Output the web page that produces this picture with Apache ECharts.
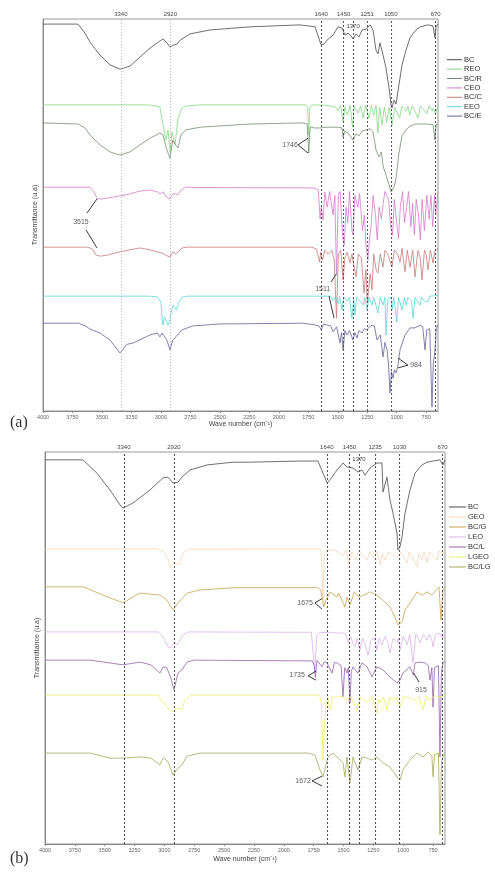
<!DOCTYPE html>
<html><head><meta charset="utf-8">
<script src="https://cdn.jsdelivr.net/npm/echarts@6/dist/echarts.min.js"></script>
<style>html,body{margin:0;padding:0;background:#fff}#c{width:495px;height:873px}</style>
</head><body><div id="c"></div>
<script>
// ---------- axis / tick data ----------
const wnTicks = [4000,3750,3500,3250,3000,2750,2500,2250,2000,1750,1500,1250,1000,750];
const bandsA = [3340,2920,1640,1450,1370,1251,1050,670];
const bandsB = [3340,2920,1640,1450,1370,1235,1030,670];
const namesA = ['BC','REO','BC/R','CEO','BC/C','EEO','BC/E'];
const namesB = ['BC','GEO','BC/G','LEO','BC/L','LGEO','BC/LG'];

// ---------- panel (a) spectra [wavenumber, transmittance (u.a)] ----------
const bcA = [[4000,98.7],[3703,98.7],[3644,96.4],[3601,94.1],[3517,90.8],[3432,88.3],[3347,87.2],[3262,88.0],[3177,90.3],[3092,92.6],[3008,94.4],[2982,94.9],[2948,93.9],[2923,92.9],[2889,93.4],[2863,93.6],[2838,94.6],[2753,96.2],[2584,97.2],[2244,98.0],[1820,98.5],[1693,98.0],[1667,95.7],[1642,93.4],[1617,93.6],[1591,94.6],[1540,95.9],[1498,98.0],[1464,97.7],[1439,95.9],[1413,96.4],[1388,95.7],[1371,94.9],[1345,96.2],[1320,95.4],[1294,97.2],[1260,97.4],[1226,98.5],[1201,97.2],[1176,92.1],[1159,91.1],[1142,93.9],[1116,90.8],[1091,87.5],[1065,82.4],[1048,78.1],[1040,77.3],[1023,79.3],[1006,78.3],[981,83.2],[955,88.3],[921,92.1],[887,95.2],[845,96.9],[802,98.0],[735,98.5],[692,98.2],[675,95.2],[667,98.0],[650,98.7]];
const reoA = [[4000,78.1],[3100,78.1],[3010,77.6],[2982,73.0],[2957,69.1],[2940,71.7],[2923,66.1],[2906,71.2],[2880,67.9],[2855,74.7],[2821,77.3],[2787,77.8],[2650,78.1],[1770,78.1],[1756,77.5],[1746,70.4],[1738,77.3],[1720,78.1],[1600,78.0],[1520,77.6],[1500,76.5],[1475,78],[1455,73.7],[1440,77.5],[1420,75.5],[1395,78],[1375,72.4],[1360,77.8],[1330,76],[1305,77.8],[1285,74.7],[1265,78],[1235,74.7],[1215,78],[1195,75.5],[1175,78],[1160,70.9],[1145,77.5],[1125,73],[1105,77.5],[1085,73.7],[1065,77.5],[1040,73],[1015,77.5],[995,76],[975,74.7],[955,77.8],[920,76.5],[905,77.8],[890,75.5],[870,77.8],[845,76.5],[820,74.7],[800,77.8],[770,76.8],[745,75.8],[725,77.8],[700,76.5],[690,77.3],[670,76],[650,78]];
const bcrA = [[4000,73.5],[3700,73.2],[3644,72.2],[3601,70.4],[3517,67.9],[3432,66.1],[3347,65.3],[3262,66.1],[3177,67.9],[3092,69.6],[3008,70.9],[2982,70.4],[2955,67.1],[2923,64.5],[2900,69.1],[2875,67.9],[2855,67.1],[2830,70.4],[2790,71.7],[2668,72.4],[2244,73.2],[1800,73.5],[1760,73.3],[1746,65.8],[1735,72.5],[1700,72.2],[1651,72.2],[1640,71.7],[1600,72.4],[1500,72.4],[1464,72.2],[1455,69.9],[1440,71.4],[1410,70.9],[1371,69.1],[1345,70.7],[1320,70.2],[1294,71.4],[1260,71.7],[1226,72.0],[1201,71.2],[1176,66.6],[1150,64.8],[1130,66.1],[1116,62.5],[1091,60.2],[1065,57.7],[1048,55.9],[1040,56.4],[1023,57.1],[1006,59.4],[981,65.8],[955,70.2],[921,71.7],[887,72.7],[845,73.2],[802,73.2],[735,73.2],[692,73.0],[675,69.1],[667,73.0],[650,73.2]];
const ceoA = [[4000,57.1],[3600,57.1],[3570,56.0],[3540,54.1],[3500,54.1],[3400,54.6],[3300,55.1],[3177,56.1],[3092,56.4],[3030,55.9],[3008,55.4],[2982,55.9],[2955,54.6],[2923,54.1],[2900,55.4],[2880,55.4],[2855,55.1],[2830,56.4],[2790,57.1],[2668,57.0],[1700,56.9],[1665,56.4],[1650,49],[1640,52],[1625,48.7],[1610,55.9],[1590,52],[1570,56],[1540,50],[1525,55],[1511,34.7],[1495,55],[1480,56],[1460,45],[1445,42.3],[1430,52],[1415,48],[1400,56],[1380,46],[1370,44.9],[1355,55],[1330,52],[1315,55.5],[1290,46],[1275,50],[1260,42],[1245,38.5],[1230,44],[1215,48],[1200,55],[1180,50],[1165,43.6],[1150,52],[1130,49],[1115,53],[1100,56],[1070,54],[1050,47],[1035,44.9],[1020,54],[1000,48],[985,44],[970,52],[950,56],[935,48],[920,51],[900,56],[880,47],[865,53],[850,45],[835,54],[815,50],[800,43.6],[785,54],[765,46],[745,55],[725,49],[710,55],[695,47],[680,55],[670,50],[650,56]];
const bccA = [[4000,41.8],[3620,41.8],[3580,41.3],[3550,39.8],[3515,39.5],[3450,39.8],[3350,40.6],[3262,41.1],[3177,41.6],[3092,41.1],[3030,40.6],[2990,40.3],[2950,39.6],[2923,39.3],[2900,40.6],[2875,40.1],[2855,40.6],[2820,41.6],[2780,41.8],[1720,41.8],[1680,41.3],[1655,38.0],[1645,40.5],[1630,38.5],[1610,41.0],[1580,40.0],[1550,41.0],[1530,38.5],[1511,23.7],[1495,40],[1475,41],[1455,33.4],[1440,39],[1420,40.5],[1396,37.8],[1380,40],[1360,36.5],[1345,34.2],[1325,40],[1300,39],[1277,30.1],[1262,36],[1250,27.6],[1225,35],[1210,30.9],[1195,40],[1175,36],[1160,35.2],[1140,40],[1116,36.7],[1100,41],[1075,40],[1055,38],[1040,36.7],[1020,41],[990,40],[972,38.0],[955,41.5],[930,35.5],[910,41],[887,36.7],[865,41],[845,34.2],[820,41],[800,39],[786,33.4],[765,41],[750,40],[735,36.0],[715,41],[692,37.8],[675,41],[650,41.5]];
const eeoA = [[4000,29.3],[3100,29.3],[3030,29.1],[3000,27.8],[2985,21.9],[2970,24],[2955,23.0],[2940,21.9],[2923,23.2],[2910,25.5],[2895,27.0],[2870,25.8],[2850,27.5],[2820,29.0],[2780,29.3],[1560,29.3],[1540,28.3],[1520,29.2],[1498,27.5],[1485,29.2],[1464,25.8],[1450,29],[1420,28],[1400,29],[1380,23.7],[1365,28.5],[1354,24.5],[1340,29],[1310,28],[1285,27],[1270,29],[1252,25.8],[1235,29],[1209,27.0],[1195,29],[1159,25.0],[1140,29],[1115,27],[1100,29],[1091,19.4],[1075,28.5],[1050,29],[1040,25.8],[1025,29],[1000,22.7],[985,29],[955,25.8],[935,29],[920,27.0],[905,29],[875,28],[862,23.7],[845,29],[802,27.0],[790,29],[760,28],[735,27.8],[720,29.3],[650,29.5]];
const bceA = [[4000,22.4],[3700,22.4],[3640,21.7],[3601,20.9],[3517,19.9],[3432,18.1],[3347,14.8],[3290,17],[3240,17.3],[3092,19.4],[3030,19.9],[3008,18.9],[2990,19.9],[2950,18.1],[2923,15.6],[2900,18.1],[2870,19.0],[2855,18.9],[2821,20.7],[2730,21.7],[2500,22.2],[1800,22.4],[1700,22.0],[1660,21.7],[1640,20.7],[1620,22.2],[1560,21.7],[1540,20.2],[1510,21.5],[1481,17.3],[1468,20],[1455,15.6],[1440,20.5],[1422,19.4],[1400,20.5],[1371,18.1],[1355,20],[1337,18.6],[1320,20.5],[1294,19.9],[1275,21],[1252,20.7],[1230,21.5],[1209,21.9],[1190,21.7],[1167,18.1],[1140,19.4],[1116,13.8],[1100,17.5],[1082,15.6],[1070,12],[1057,4.6],[1045,10],[1031,8.4],[1020,10.5],[1006,9.7],[989,11.7],[972,15.6],[930,19.4],[887,21.2],[845,21.2],[802,21.9],[780,21.5],[760,15.6],[745,20.7],[720,21],[701,1.0],[690,12],[675,15.6],[665,21],[650,22]];

// ---------- panel (b) spectra ----------
const bcB = [[4000,98.0],[3682,98.0],[3565,94.6],[3456,90.3],[3372,86.5],[3347,85.7],[3263,87.0],[3121,90.3],[3012,93.4],[2970,93.6],[2928,92.1],[2886,92.3],[2853,93.6],[2786,95.4],[2643,96.7],[2426,97.4],[2283,97.4],[1864,97.7],[1714,97.7],[1672,94.6],[1638,92.1],[1613,92.9],[1555,95.4],[1504,97.2],[1471,96.2],[1421,95.9],[1379,94.9],[1345,95.4],[1320,94.1],[1278,95.9],[1220,97.2],[1178,97.2],[1169,89.8],[1136,93.6],[1111,87.8],[1086,84.4],[1052,79.3],[1044,75.0],[1027,75.8],[1010,78.3],[985,84.4],[943,90.3],[901,94.6],[843,96.7],[801,97.4],[692,98.0],[667,96.7],[650,98.0]];
const geoB = [[4000,75.3],[3050,75.3],[3000,74.5],[2970,72.7],[2950,70.4],[2920,71.9],[2880,71.2],[2845,74.2],[2800,75.2],[1700,75.3],[1685,74],[1672,62.2],[1660,74],[1640,75],[1590,75.1],[1545,74.5],[1504,73.5],[1480,75],[1455,71.2],[1430,74.5],[1400,72.5],[1370,74.8],[1303,72.4],[1280,74.5],[1250,73],[1220,74.6],[1194,71.2],[1175,74],[1150,72.4],[1120,74.5],[1052,73],[1020,74.5],[968,71.7],[950,74.5],[885,70.7],[870,74],[845,72.4],[825,74.5],[800,71.7],[780,74.5],[717,72.4],[700,74.8],[670,74],[650,75]];
const bcgB = [[4000,65.6],[3680,65.6],[3456,62.8],[3347,61.5],[3205,64.0],[3037,63.5],[2980,62.2],[2928,59.7],[2886,61.5],[2811,64.0],[2702,64.8],[2400,65.4],[1714,65.4],[1690,64.8],[1675,62.2],[1665,60.5],[1650,62],[1613,64.3],[1555,63.0],[1540,64],[1488,60.5],[1470,63],[1445,61.0],[1410,64.3],[1370,63.0],[1330,63.5],[1280,64.3],[1220,63.5],[1170,62.2],[1111,60.5],[1069,57.9],[1044,55.9],[1010,56.6],[985,59.7],[943,61.5],[885,64.3],[843,63.5],[800,64.3],[760,63.5],[700,65.6],[684,57.1],[667,64.8],[650,65.6]];
const leoB = [[4000,54.1],[3050,54.1],[3010,52.8],[2970,50.3],[2950,50.0],[2920,51.3],[2890,50.8],[2850,53.3],[2800,54.1],[1770,54],[1755,53.5],[1740,43.9],[1725,53],[1700,54],[1500,53.8],[1480,53.5],[1462,51.3],[1440,53],[1420,51],[1404,50.3],[1385,52.5],[1362,49.5],[1340,52.5],[1320,51],[1295,48.2],[1270,52],[1240,52.5],[1220,49.5],[1200,52.5],[1178,50.8],[1150,53],[1130,51.5],[1111,48.7],[1085,52.5],[1070,53],[1052,51.3],[1040,52.5],[1027,49.5],[1000,53],[985,52],[968,50.8],[945,53.5],[918,46.2],[895,53.5],[875,52.5],[859,51.3],[830,53.5],[801,52.0],[780,53.5],[760,52],[750,50.3],[730,53.5],[692,53.8],[670,52.5],[650,54]];
const bclB = [[4000,46.9],[3620,46.9],[3347,45.7],[3204,46.4],[3113,45.7],[3037,43.6],[3012,45.2],[2980,45.0],[2945,42.3],[2920,39.3],[2886,43.6],[2853,44.4],[2811,46.4],[2750,46.9],[1760,46.7],[1745,45.5],[1735,42.5],[1722,46.9],[1680,45.2],[1660,46.5],[1638,46.2],[1597,43.6],[1575,46.3],[1555,46.2],[1520,45.5],[1504,37.5],[1490,45],[1471,43.6],[1460,45],[1445,36.0],[1435,44],[1421,45.2],[1379,43.6],[1345,46.2],[1303,45.2],[1261,42.6],[1220,45.2],[1169,44.4],[1111,42.6],[1052,41.1],[1027,41.8],[1002,43.6],[943,45.2],[915,43.1],[901,46.2],[859,46.4],[817,46.2],[790,45.5],[776,41.8],[760,45],[750,34.9],[738,45],[725,45.2],[705,45.5],[692,22.2],[680,44],[667,46.2],[650,46.7]];
const lgeoB = [[4000,38.0],[3050,38.0],[3037,37.2],[2980,35.0],[2940,33.7],[2886,34.7],[2853,34.2],[2830,36.7],[2780,38.0],[1700,38.0],[1685,36],[1672,21.4],[1660,30],[1645,36],[1630,37],[1613,34.2],[1590,37.5],[1555,37.5],[1500,37.6],[1471,36.7],[1440,37.5],[1387,34.2],[1360,37.5],[1303,36.0],[1260,37.5],[1220,33.4],[1205,37],[1194,36.0],[1165,37.5],[1136,34.2],[1115,37.5],[1094,36.7],[1060,37.5],[1027,35.0],[995,37.5],[960,37.5],[930,36.8],[901,36.7],[870,37.8],[834,34.2],[805,37.8],[776,36.7],[740,37.8],[692,37.5],[650,38]];
const bclgB = [[4000,23.2],[3620,23.2],[3456,21.9],[3347,21.9],[3204,22.2],[3113,21.9],[3037,20.2],[3010,22],[2970,21],[2928,17.6],[2886,19.4],[2853,20.2],[2811,22.4],[2700,23.2],[1800,23.2],[1739,22.7],[1697,18.9],[1672,17.1],[1630,22.2],[1588,23.2],[1504,20.7],[1488,17.1],[1471,22.2],[1445,15.6],[1421,22.2],[1379,18.9],[1345,22.2],[1303,21.9],[1261,21.4],[1220,22.2],[1169,20.7],[1111,19.6],[1052,17.1],[1027,16.3],[1002,18.9],[943,21.4],[885,23.2],[834,22.2],[792,23.5],[760,22.5],[750,17.1],[738,22.8],[725,23.2],[705,23.2],[692,2.3],[680,21],[667,22.2],[650,23.2]];

// ---------- peak annotations (text at [wn, T], arrow segments) ----------
const notesA = [['1746',1905,67.9],['3515',3678,48.2],['1511',1628,31.1],['984',836,11.7]];
const arrowsA = [[[1837,67.9],[1752,69.6]],[[1837,67.9],[1752,65.8]],[[3627,50.5],[3542,54.1]],[[3635,46.2],[3542,41.6]],[[1557,32.9],[1515,34.9]],[[1574,29.3],[1532,23.7]],[[904,11.7],[989,13.5]],[[904,11.7],[989,11.0]]];
const notesB = [['1675',1822,61.5],['1735',1889,43.1],['915',851,39.3],['1672',1839,16.1]];
const arrowsB = [[[1739,61.5],[1680,62.6]],[[1739,61.5],[1680,59.9]],[[1797,42.9],[1730,44.1]],[[1797,42.9],[1730,41.8]],[[912,43.6],[868,41.3]],[[1764,16.1],[1680,17.3]],[[1764,16.1],[1680,14.8]]];

const colorsA = ['#4a4a4a','#86d886','#718f71','#d27cc8','#c87878','#5cd6d6','#62629a'];
const colorsB = ['#4a4a4a','#f2d6be','#c9a24c','#dcb2e6','#9462a4','#eeee6a','#a6a85e'];
const dataA = [bcA,reoA,bcrA,ceoA,bccA,eeoA,bceA];
const dataB = [bcB,geoB,bcgB,leoB,bclB,lgeoB,bclgB];

const FONT = 'Liberation Sans';
const chart = echarts.init(document.getElementById('c'), null, {renderer:'canvas'});

function xAx(gi, gap){
  return {type:'value', gridIndex:gi, min:650, max:4000, inverse:true,
    name:'Wave number (cm\u207B\u00B9)', nameLocation:'middle', nameGap:gap,
    nameTextStyle:{fontSize:7, color:'#444', fontFamily:FONT},
    axisLine:{lineStyle:{color:'#888', width:1}},
    axisTick:{show:true, inside:false, length:2, lineStyle:{color:'#888'}, customValues:wnTicks},
    axisLabel:{fontSize:5.5, color:'#666', margin:3, fontFamily:FONT, customValues:wnTicks, formatter:v=>String(v)},
    splitLine:{show:false}};
}
function yAx(gi){
  return {type:'value', gridIndex:gi, min:0, max:100,
    name:'Transmittance (u.a)', nameLocation:'middle', nameGap:4, nameRotate:90,
    nameTextStyle:{fontSize:7, color:'#444', fontFamily:FONT},
    axisLine:{show:true, lineStyle:{color:'#888'}}, axisTick:{show:false}, axisLabel:{show:false}, splitLine:{show:false}};
}
function guideLines(bands, panel){
  return {symbol:['none','none'], silent:true, animation:false,
    label:{show:true, position:'end', distance:2, fontSize:6, color:'#444', fontFamily:FONT, formatter:p=>String(p.value)},
    data: bands.map(v=>{
      const thin = panel==='a' && (v===3340 || v===2920);
      const item = {xAxis:v, lineStyle: thin ? {type:[1,2], width:0.7, color:'#999'} : {type:[2,2], width:1.1, color:'#555'}};
      if (v===1370) item.label = {distance:-10};
      return item;
    })};
}
const series = [];
dataA.forEach((d,i)=>{
  const s = {type:'line', name:namesA[i], data:d, xAxisIndex:0, yAxisIndex:0, showSymbol:false, symbol:'none',
    lineStyle:{width:0.8, color:colorsA[i]}, itemStyle:{color:colorsA[i]}, animation:false, z:3};
  if (i===0) s.markLine = guideLines(bandsA,'a');
  series.push(s);
});
dataB.forEach((d,i)=>{
  const s = {type:'line', name:namesB[i], data:d, xAxisIndex:1, yAxisIndex:1, showSymbol:false, symbol:'none',
    lineStyle:{width:0.8, color:colorsB[i]}, itemStyle:{color:colorsB[i]}, animation:false, z:3};
  if (i===0) s.markLine = guideLines(bandsB,'b');
  series.push(s);
});
function noteSeries(notes, arrows, gi){
  return {type:'scatter', name:'notes'+gi, xAxisIndex:gi, yAxisIndex:gi, symbolSize:1, itemStyle:{color:'rgba(0,0,0,0)'},
    data: notes.map(n=>[n[1],n[2],n[0]]), animation:false, z:5,
    label:{show:true, position:'inside', fontSize:7, color:'#333', fontFamily:FONT, formatter:p=>p.data[2]},
    markLine:{symbol:['none','none'], silent:true, animation:false, label:{show:false},
      lineStyle:{type:'solid', color:'#222', width:0.9},
      data: arrows.map(a=>[{coord:a[0]},{coord:a[1]}])}};
}
series.push(noteSeries(notesA, arrowsA, 0));
series.push(noteSeries(notesB, arrowsB, 1));

const legendBase = {orient:'vertical', selectedMode:false, icon:'rect', itemHeight:1, itemGap:0, padding:0,
  textStyle:{fontSize:7.5, color:'#333', fontFamily:FONT, padding:[0,0,0,-3]}};
chart.setOption({
  backgroundColor:'#fff',
  animation:false,
  title:[
    {text:'(a)', left:5, top:410, textStyle:{fontFamily:'Liberation Serif', fontSize:16, fontWeight:'normal', color:'#333'}},
    {text:'(b)', left:5, top:846, textStyle:{fontFamily:'Liberation Serif', fontSize:16, fontWeight:'normal', color:'#333'}}
  ],
  grid:[
    {left:43, top:19, width:395, height:392, show:true, borderColor:'#999', borderWidth:1},
    {left:45, top:452, width:400, height:392, show:true, borderColor:'#999', borderWidth:1}
  ],
  xAxis:[xAx(0,10), xAx(1,12)],
  yAxis:[yAx(0), yAx(1)],
  legend:[
    Object.assign({}, legendBase, {data:namesA, left:447, top:55, itemWidth:15, textStyle:Object.assign({}, legendBase.textStyle, {lineHeight:9.4})}),
    Object.assign({}, legendBase, {data:namesB, left:449, top:502, itemWidth:17, textStyle:Object.assign({}, legendBase.textStyle, {lineHeight:10})})
  ],
  series: series
});
</script></body></html>
